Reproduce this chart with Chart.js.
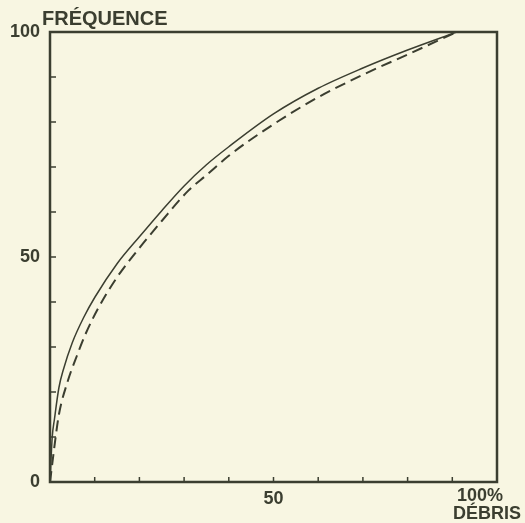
<!DOCTYPE html>
<html>
<head>
<meta charset="utf-8">
<script src="https://cdn.jsdelivr.net/npm/chart.js@4/dist/chart.umd.min.js"></script>
<style>
    body { margin: 0; background: #f8f6e2; }
    #wrap { width: 525px; height: 523px; }
</style>
</head>
<body>
<div id="wrap"><canvas id="chartDebris" width="525" height="523"></canvas></div>
<script>
// Fréquence cumulée / % débris

const solidX = [0, 0.5, 1, 2, 3, 5, 7.5, 10, 15, 20, 25, 30, 35, 40, 50, 60, 70, 80, 91];
const solidY = [0, 10, 14, 21, 25, 31, 36.5, 41, 48.5, 54.5, 60.3, 65.8, 70.5, 74.5, 81.8, 87.5, 92, 96, 100];

const dashX = [0, 0.7, 1, 2, 4, 6, 8, 11, 15, 20, 25, 31, 35, 40, 50, 60, 70, 80, 91];
const dashY = [0, 5.6, 8, 15, 22.5, 28, 33, 39, 45.5, 52, 58, 64.8, 68.2, 72.5, 79.5, 85.5, 90.5, 95, 100];

const yLabels = [0, 50, 100];
const xLabels = [50];

const ink = "#3b3e30";
const font = '"Liberation Sans", Arial, sans-serif';

const toPoints = (xs, ys) => xs.map((x, i) => ({ x: x, y: ys[i] }));

// cadre, petites graduations et textes
const frame = {
    id: "frame",
    beforeDraw(chart) {
        const ctx = chart.ctx;
        ctx.save();
        ctx.fillStyle = "#f8f6e2";
        ctx.fillRect(0, 0, chart.width, chart.height);
        ctx.restore();
    },
    afterDraw(chart) {
        const ctx = chart.ctx;
        const a = chart.chartArea;
        const xs = chart.scales.x;
        const ys = chart.scales.y;
        ctx.save();
        ctx.strokeStyle = ink;
        ctx.lineWidth = 2.5;
        ctx.strokeRect(a.left, a.top, a.right - a.left, a.bottom - a.top);

        // graduations tournées vers l'intérieur
        ctx.lineWidth = 1.5;
        for (let v = 10; v < 100; v += 10) {
            let px = xs.getPixelForValue(v);
            ctx.beginPath();
            ctx.moveTo(px, a.bottom);
            ctx.lineTo(px, a.bottom - 5);
            ctx.stroke();
            let py = ys.getPixelForValue(v);
            ctx.beginPath();
            ctx.moveTo(a.left, py);
            ctx.lineTo(a.left + 6, py);
            ctx.stroke();
        }

        ctx.fillStyle = ink;
        ctx.font = "bold 20px " + font;
        ctx.textBaseline = "alphabetic";
        ctx.textAlign = "left";
        ctx.fillText("FRÉQUENCE", 42, 25);
        ctx.font = "bold 18px " + font;
        ctx.textBaseline = "top";
        ctx.fillText("100%", 457, 487);
        ctx.fillText("DÉBRIS", 453, 505);
        ctx.restore();
    },
};

const config = {
    type: "line",
    data: {
        datasets: [
            {
                label: "continue",
                data: toPoints(solidX, solidY),
                borderColor: ink,
                borderWidth: 1.5,
                pointRadius: 0,
                fill: false,
                cubicInterpolationMode: "monotone",
            },
            {
                label: "tirets",
                data: toPoints(dashX, dashY),
                borderColor: ink,
                borderWidth: 2,
                borderDash: [11, 6],
                pointRadius: 0,
                fill: false,
                cubicInterpolationMode: "monotone",
            },
        ],
    },
    options: {
        responsive: false,
        animation: false,
        layout: { padding: { top: 32, right: 28, bottom: 0, left: 0 } },
        plugins: {
            legend: { display: false },
            tooltip: { enabled: false },
        },
        scales: {
            x: {
                type: "linear",
                min: 0,
                max: 100,
                grid: { display: false, drawTicks: false },
                border: { display: false },
                afterFit: (s) => { s.height = 41; },
                ticks: {
                    stepSize: 10,
                    padding: 6,
                    maxRotation: 0,
                    color: ink,
                    font: { family: font, size: 18, weight: "bold" },
                    callback: (v) => (xLabels.includes(v) ? String(v) : ""),
                },
            },
            y: {
                min: 0,
                max: 100,
                grid: { display: false, drawTicks: false },
                border: { display: false },
                afterFit: (s) => { s.width = 50; },
                ticks: {
                    stepSize: 10,
                    padding: 10,
                    color: ink,
                    font: { family: font, size: 18, weight: "bold" },
                    callback: (v) => (yLabels.includes(v) ? String(v) : ""),
                },
            },
        },
    },
    plugins: [frame],
};

let lineGraph = new Chart(document.getElementById("chartDebris"), config);
</script>
</body>
</html>
